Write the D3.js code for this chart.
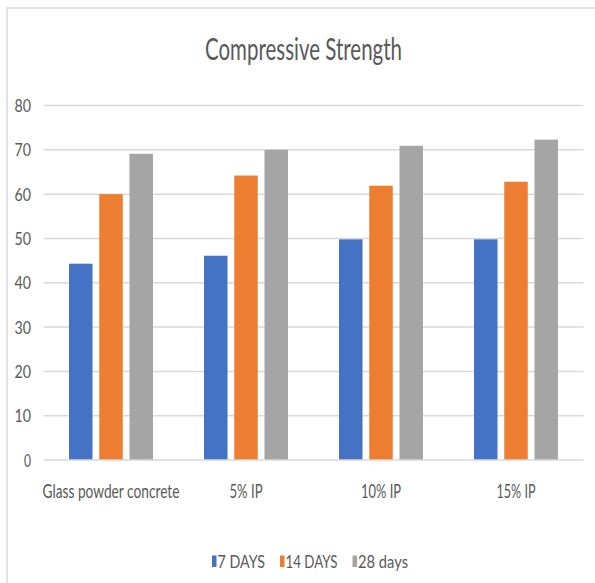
<!DOCTYPE html>
<html>
<head>
<meta charset="utf-8">
<script src="https://cdn.jsdelivr.net/npm/d3@7"></script>
<style>
  html, body { margin: 0; padding: 0; background: #fff; }
  svg { display: block; }
  text { font-family: Lato, "Open Sans", "Liberation Sans", sans-serif; fill: #595959; }
</style>
</head>
<body>
<svg id="chart" width="595" height="583"></svg>
<script>
// ---- data ----
const categories = ["Glass powder concrete", "5% IP", "10% IP", "15% IP"];
const seriesNames = ["7 DAYS", "14 DAYS", "28 days"];
const days7 = [44.3, 46.1, 49.8, 49.8];
const days14 = [60.0, 64.2, 61.9, 62.8];
const days28 = [69.1, 70.0, 70.9, 72.3];
const yTicks = [0, 10, 20, 30, 40, 50, 60, 70, 80];
const chartTitle = "Compressive Strength";

// ---- style / layout ----
const colors = ["#4472c4", "#ed7d31", "#a5a5a5"];
const W = 595, H = 583;
const plot = { left: 43.5, right: 583.5, top: 105.5, bottom: 460 };
const svg = d3.select("#chart");

// border (top/left visible, rest runs off the picture)
svg.append("rect")
  .attr("x", 7).attr("y", 8).attr("width", 640).attr("height", 640)
  .attr("fill", "none").attr("stroke", "#e3e3e3").attr("stroke-width", 2);

const x0 = d3.scaleBand().domain(categories)
  .range([plot.left, plot.right]).paddingInner(0.378).paddingOuter(0.189);
const x1 = d3.scaleBand().domain(seriesNames)
  .range([0, x0.bandwidth()]).paddingInner(0.223).paddingOuter(0);
const y = d3.scaleLinear().domain([0, 80]).range([plot.bottom, plot.top]);

// gridlines
svg.append("g").selectAll("line").data(yTicks.filter(d => d > 0)).join("line")
  .attr("x1", plot.left).attr("x2", plot.right)
  .attr("y1", d => y(d)).attr("y2", d => y(d))
  .attr("stroke", "#d9d9d9").attr("stroke-width", 1.5);

// y tick labels
const tickLen = d => (String(d).length === 1 ? 7 : 16.5);
svg.append("g").selectAll("text").data(yTicks).join("text")
  .attr("x", 31).attr("y", d => y(d) + 6.5)
  .attr("text-anchor", "end")
  .attr("font-size", 18)
  .attr("textLength", tickLen).attr("lengthAdjust", "spacingAndGlyphs")
  .text(d => d);

// bars
const seriesValues = [days7, days14, days28];
const rows = categories.map((c, i) => ({ cat: c, vals: seriesNames.map((s, j) => ({ s, j, v: seriesValues[j][i] })) }));
const groups = svg.append("g").selectAll("g").data(rows).join("g")
  .attr("transform", d => `translate(${x0(d.cat)},0)`);
groups.selectAll("rect").data(d => d.vals).join("rect")
  .attr("x", d => x1(d.s)).attr("width", x1.bandwidth())
  .attr("y", d => y(d.v)).attr("height", d => y(0) - y(d.v))
  .attr("fill", d => colors[d.j]);

// x axis line
svg.append("line")
  .attr("x1", plot.left).attr("x2", plot.right)
  .attr("y1", y(0)).attr("y2", y(0))
  .attr("stroke", "#d9d9d9").attr("stroke-width", 1.5);

// category labels
const catLen = { "Glass powder concrete": 137, "5% IP": 33, "10% IP": 40, "15% IP": 39 };
svg.append("g").selectAll("text").data(categories).join("text")
  .attr("x", d => x0(d) + x0.bandwidth() / 2).attr("y", 497.5)
  .attr("text-anchor", "middle").attr("font-size", 19)
  .attr("textLength", d => catLen[d]).attr("lengthAdjust", "spacingAndGlyphs")
  .text(d => d);

// title
svg.append("text")
  .attr("x", 303.5).attr("y", 60)
  .attr("text-anchor", "middle").attr("font-size", 30)
  .attr("textLength", 197).attr("lengthAdjust", "spacingAndGlyphs")
  .text(chartTitle);

// legend
const legLen = [47.5, 52, 50];
let lx = 212;
const leg = svg.append("g");
seriesNames.forEach((name, j) => {
  leg.append("rect").attr("x", lx).attr("y", 555.5).attr("width", 4.5).attr("height", 11.5).attr("fill", colors[j]);
  leg.append("text").attr("x", lx + 5.5).attr("y", 567.5).attr("font-size", 17)
    .attr("textLength", legLen[j]).attr("lengthAdjust", "spacingAndGlyphs").text(name);
  lx += 5.5 + legLen[j] + 15;
});
</script>
</body>
</html>
